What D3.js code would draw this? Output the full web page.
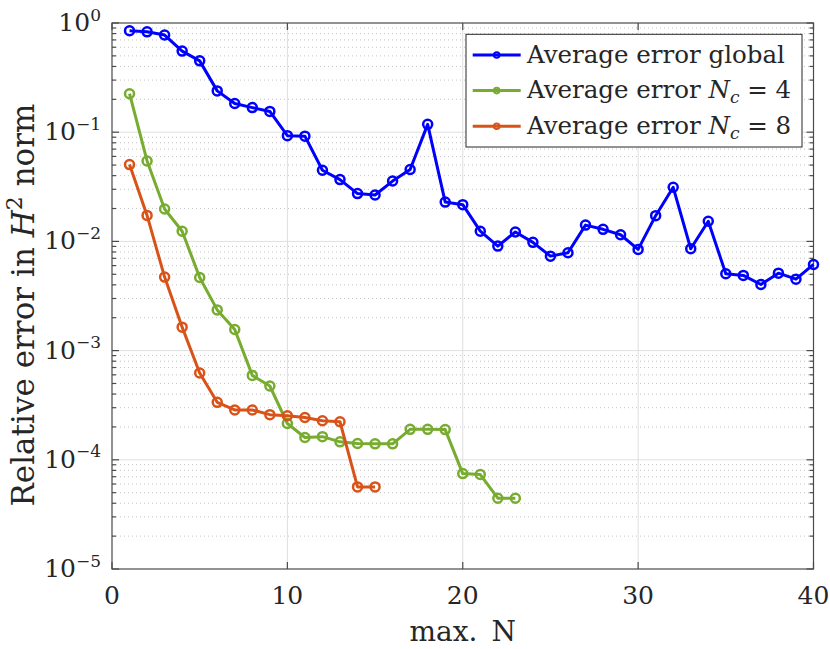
<!DOCTYPE html>
<html>
<head>
<meta charset="utf-8">
<script src="https://cdn.jsdelivr.net/npm/d3@7"></script>
<style>
  body { margin: 0; background: #fff; }
  svg { display: block; }
  text { font-family: "DejaVu Serif", "Liberation Serif", Tinos, serif; fill: #262626; }
</style>
</head>
<body>
<svg id="ErrorChart" width="830" height="649"></svg>
<script>
// data
const maxN = [1, 2, 3, 4, 5, 6, 7, 8, 9, 10, 11, 12, 13, 14, 15, 16, 17, 18, 19, 20,
  21, 22, 23, 24, 25, 26, 27, 28, 29, 30, 31, 32, 33, 34, 35, 36, 37, 38, 39, 40];
const errGlobal = [0.85, 0.83, 0.776, 0.553, 0.45, 0.239, 0.183, 0.168, 0.155, 0.093,
  0.092, 0.0448, 0.0368, 0.0274, 0.0266, 0.0357, 0.0455, 0.118, 0.0229, 0.0217,
  0.0124, 0.00906, 0.0122, 0.0098, 0.00733, 0.00787, 0.0141, 0.0129, 0.0115, 0.00845,
  0.0172, 0.0313, 0.00857, 0.0153, 0.00505, 0.00488, 0.00403, 0.00512, 0.00451, 0.00615];
const errNc4 = [0.225, 0.0545, 0.0198, 0.0124, 0.00467, 0.00236, 0.00156, 0.000593, 0.000474, 0.000215,
  0.00016, 0.000163, 0.000146, 0.000141, 0.00014, 0.00014, 0.00019, 0.00019, 0.000189, 0.0000748,
  0.0000733, 0.0000445, 0.0000445];
const errNc8 = [0.0505, 0.0173, 0.00471, 0.00164, 0.000624, 0.000336, 0.000286, 0.000286, 0.000259, 0.000253,
  0.000244, 0.000228, 0.000223, 0.0000565, 0.0000565];
const xTicks = [0, 10, 20, 30, 40];
const yTickExps = [0, -1, -2, -3, -4, -5];

const series = [
  { label: 'global', values: errGlobal, color: '#0000ff' },
  { label: '4', values: errNc4, color: '#77ac30' },
  { label: '8', values: errNc8, color: '#d95319' },
];

const svg = d3.select('svg#ErrorChart');
const x = d3.scaleLinear().domain([0, 40]).range([112, 813.5]);
const y = d3.scaleLog().domain([1e-5, 1]).range([569, 23]);
const [x0, x1] = x.range();
const [y0, y1] = y.range();

// minor positions 2..9 x 10^k
const minorVals = [];
yTickExps.slice(1).forEach(e => {
  for (let m = 2; m <= 9; m++) minorVals.push(m * Math.pow(10, e));
});

const grid = svg.append('g');
grid.selectAll('line.minor').data(minorVals).join('line')
  .attr('x1', x0).attr('x2', x1)
  .attr('y1', d => y(d)).attr('y2', d => y(d))
  .attr('stroke', '#c4c4c4').attr('stroke-width', 1)
  .attr('stroke-dasharray', '1,3');
grid.selectAll('line.hmajor').data(yTickExps.slice(1, -1)).join('line')
  .attr('x1', x0).attr('x2', x1)
  .attr('y1', e => y(Math.pow(10, e))).attr('y2', e => y(Math.pow(10, e)))
  .attr('stroke', '#dfdfdf').attr('stroke-width', 1);
grid.selectAll('line.vmajor').data(xTicks.slice(1, -1)).join('line')
  .attr('x1', d => x(d)).attr('x2', d => x(d))
  .attr('y1', y0).attr('y2', y1)
  .attr('stroke', '#dfdfdf').attr('stroke-width', 1);

// box and ticks
const axisColor = '#4a4a4a';
const ax = svg.append('g').attr('stroke', axisColor).attr('stroke-width', 1.2);
ax.append('rect')
  .attr('x', x0).attr('y', y1).attr('width', x1 - x0).attr('height', y0 - y1)
  .attr('fill', 'none');
xTicks.forEach(d => {
  ax.append('line').attr('x1', x(d)).attr('x2', x(d)).attr('y1', y0).attr('y2', y0 - 7);
  ax.append('line').attr('x1', x(d)).attr('x2', x(d)).attr('y1', y1).attr('y2', y1 + 7);
});
yTickExps.forEach(e => {
  const yy = y(Math.pow(10, e));
  ax.append('line').attr('x1', x0).attr('x2', x0 + 7).attr('y1', yy).attr('y2', yy);
  ax.append('line').attr('x1', x1).attr('x2', x1 - 7).attr('y1', yy).attr('y2', yy);
});
minorVals.forEach(v => {
  ax.append('line').attr('x1', x0).attr('x2', x0 + 4).attr('y1', y(v)).attr('y2', y(v));
  ax.append('line').attr('x1', x1).attr('x2', x1 - 4).attr('y1', y(v)).attr('y2', y(v));
});

// tick labels
svg.append('g').selectAll('text').data(xTicks).join('text')
  .attr('x', d => x(d)).attr('y', 603.5)
  .attr('text-anchor', 'middle')
  .attr('font-size', 25)
  .text(d => d);
yTickExps.forEach(e => {
  const t = svg.append('text')
    .attr('x', 101).attr('y', y(Math.pow(10, e)) + 8)
    .attr('text-anchor', 'end')
    .attr('font-size', 25);
  t.append('tspan').text('10');
  t.append('tspan').attr('font-size', 17).attr('dy', -10.5)
    .text(e < 0 ? '\u2212' + (-e) : String(e));
});

// axis labels
svg.append('text')
  .attr('x', (x0 + x1) / 2).attr('y', 641)
  .attr('text-anchor', 'middle')
  .attr('font-size', 28)
  .text('max.\u2002N');
const yl = svg.append('text')
  .attr('transform', 'translate(33.5,305) rotate(-90)')
  .attr('text-anchor', 'middle')
  .attr('font-size', 31);
yl.append('tspan').text('Relative error in ');
yl.append('tspan').attr('font-style', 'italic').text('H');
yl.append('tspan').attr('font-size', 22).attr('dy', -12).text('2');
yl.append('tspan').attr('dy', 12).text(' norm');

// series
const line = d3.line().x((d, i) => x(maxN[i])).y(d => y(d));
series.forEach(s => {
  const g = svg.append('g');
  g.append('path')
    .attr('d', line(s.values))
    .attr('fill', 'none')
    .attr('stroke', s.color)
    .attr('stroke-width', 3)
    .attr('stroke-linejoin', 'round');
  g.selectAll('circle').data(s.values).join('circle')
    .attr('cx', (d, i) => x(maxN[i])).attr('cy', d => y(d))
    .attr('r', 4.5)
    .attr('fill', 'none')
    .attr('stroke', s.color)
    .attr('stroke-width', 2.5);
});

// legend
const lg = svg.append('g');
lg.append('rect')
  .attr('x', 466).attr('y', 34.3).attr('width', 336).attr('height', 112.7)
  .attr('fill', '#fff').attr('stroke', '#262626').attr('stroke-width', 1);
series.forEach((s, i) => {
  const cy = 55 + i * 35.6;
  lg.append('line')
    .attr('x1', 472.7).attr('x2', 520.7).attr('y1', cy).attr('y2', cy)
    .attr('stroke', s.color).attr('stroke-width', 3);
  lg.append('circle')
    .attr('cx', 496.7).attr('cy', cy).attr('r', 2.8)
    .attr('fill', 'none').attr('stroke', s.color).attr('stroke-width', 2);
  const t = lg.append('text')
    .attr('x', 527).attr('y', cy + 7.7)
    .attr('font-size', 24.5);
  if (s.label === 'global') {
    t.text('Average error global');
  } else {
    t.append('tspan').text('Average error ');
    t.append('tspan').attr('font-style', 'italic').text('N');
    t.append('tspan').attr('font-style', 'italic').attr('font-size', 17).attr('dy', 5).text('c');
    t.append('tspan').attr('dy', -5).text(' = ' + s.label);
  }
});
</script>
</body>
</html>
